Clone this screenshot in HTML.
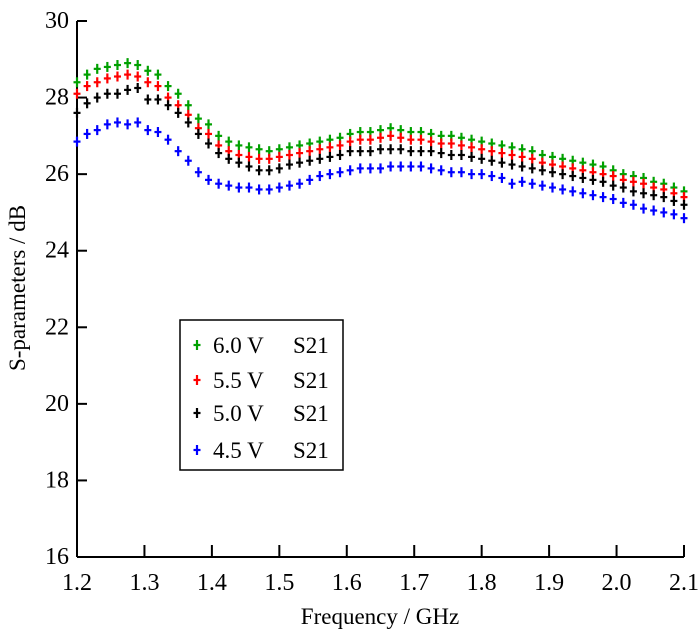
<!DOCTYPE html>
<html><head><meta charset="utf-8"><style>
body{margin:0;background:#fff}
svg text{font-family:"Liberation Serif",serif;fill:#000}
</style></head><body>
<svg id="chart" width="700" height="636" viewBox="0 0 700 636" xmlns="http://www.w3.org/2000/svg">
<g id="axes"></g>
<g id="series"></g>
<g id="legend"></g>
<text x="380" y="624" font-size="23" text-anchor="middle">Frequency / GHz</text>
<text transform="translate(25,288) rotate(-90)" font-size="23" text-anchor="middle">S-parameters / dB</text>
</svg>
<script>
const xTicks=["1.2","1.3","1.4","1.5","1.6","1.7","1.8","1.9","2.0","2.1"];
const yTicks=["16","18","20","22","24","26","28","30"];
const seriesNames=["6.0 V","5.5 V","5.0 V","4.5 V"];
const seriesColors=["#00a000","#ff0000","#000000","#0000ff"];
const green=[28.4,28.6,28.75,28.8,28.85,28.9,28.85,28.7,28.6,28.3,28.1,27.8,27.45,27.3,27.0,26.85,26.75,26.7,26.65,26.6,26.65,26.7,26.75,26.8,26.85,26.9,26.95,27.05,27.1,27.1,27.15,27.2,27.15,27.1,27.1,27.05,27.0,27.0,26.95,26.9,26.85,26.8,26.75,26.7,26.65,26.6,26.5,26.45,26.4,26.35,26.3,26.25,26.2,26.1,26.0,25.95,25.9,25.8,25.75,25.65,25.55];
const red=[28.1,28.3,28.4,28.5,28.55,28.6,28.55,28.4,28.3,28.0,27.8,27.55,27.2,27.05,26.75,26.6,26.5,26.45,26.4,26.4,26.45,26.5,26.55,26.6,26.65,26.7,26.75,26.85,26.9,26.9,26.95,27.0,26.95,26.9,26.9,26.85,26.8,26.8,26.75,26.7,26.65,26.6,26.55,26.5,26.45,26.4,26.3,26.25,26.2,26.15,26.1,26.05,26.0,25.95,25.85,25.8,25.75,25.65,25.6,25.5,25.4];
const black=[27.6,27.85,28.0,28.1,28.1,28.2,28.25,27.95,27.95,27.8,27.6,27.35,27.05,26.8,26.55,26.4,26.3,26.2,26.1,26.1,26.15,26.25,26.3,26.35,26.4,26.45,26.5,26.6,26.6,26.6,26.65,26.65,26.65,26.6,26.6,26.6,26.55,26.5,26.5,26.45,26.4,26.35,26.3,26.25,26.2,26.15,26.1,26.05,26.0,25.95,25.9,25.85,25.8,25.7,25.65,25.55,25.5,25.45,25.4,25.3,25.2];
const blue=[26.85,27.05,27.15,27.3,27.35,27.3,27.35,27.15,27.1,26.9,26.6,26.35,26.05,25.85,25.75,25.7,25.65,25.65,25.6,25.6,25.65,25.7,25.75,25.85,25.95,26.0,26.05,26.1,26.15,26.15,26.15,26.2,26.2,26.2,26.2,26.15,26.1,26.05,26.05,26.0,26.0,25.95,25.9,25.75,25.8,25.75,25.7,25.65,25.6,25.55,25.5,25.45,25.4,25.35,25.25,25.2,25.1,25.05,25.0,24.95,24.85];
const allSeries=[green,red,black,blue];

const NS="http://www.w3.org/2000/svg";
const X0=77,X1=684,Y0=557,Y1=21;
const xMin=1.2,xMax=2.1,yMin=16,yMax=30;
function sx(v){return X0+(v-xMin)/(xMax-xMin)*(X1-X0);}
function sy(v){return Y0-(v-yMin)/(yMax-yMin)*(Y0-Y1);}
function mk(tag,attrs,parent){const e=document.createElementNS(NS,tag);for(const k in attrs)e.setAttribute(k,attrs[k]);parent.appendChild(e);return e;}

const axes=document.getElementById('axes');
let l=mk('line',{x1:X0,y1:Y1,x2:X0,y2:Y0,stroke:'#000','stroke-width':2},axes);


l=mk('line',{x1:X0,y1:Y0,x2:X1,y2:Y0,stroke:'#000','stroke-width':2},axes);


yTicks.forEach(t=>{const y=sy(parseFloat(t));
 const tk=mk('line',{x1:X0,y1:y,x2:X0+10,y2:y,stroke:'#000','stroke-width':2},axes);
 
 
 const tx=mk('text',{x:X0-8,y:y+7,'font-size':24,'text-anchor':'end'},axes);tx.textContent=t;
 
 
});
xTicks.forEach(t=>{const x=sx(parseFloat(t));
 const tk=mk('line',{x1:x,y1:Y0,x2:x,y2:Y0-12,stroke:'#000','stroke-width':2},axes);
 
 
 const tx=mk('text',{x:x,y:Y0+33,'font-size':24,'text-anchor':'middle'},axes);tx.textContent=t;
 
 
});

function plus(g,x,y,c){
 mk('line',{x1:x,y1:y-5,x2:x,y2:y+5,stroke:c,'stroke-width':2.2},g);
 mk('line',{x1:x-3.5,y1:y,x2:x+3.5,y2:y,stroke:c,'stroke-width':2.2},g);
}
const sg=document.getElementById('series');
allSeries.forEach((data,si)=>{
 const g=mk('g',{},sg);
 
 
 const n=data.length;
 data.forEach((v,i)=>{const f=xMin+i*(xMax-xMin)/(n-1);plus(g,sx(f),sy(v),seriesColors[si]);});
});

const lg=document.getElementById('legend');
const box=mk('rect',{x:180,y:320,width:163,height:150,fill:'#fff',stroke:'#000','stroke-width':1.5},lg);


const ly=[345,380,413,450];
seriesNames.forEach((n,i)=>{
 const g=mk('g',{},lg);
 
 
 plus(g,197,ly[i],seriesColors[i]);
 const t=mk('text',{x:213,y:ly[i]+8,'font-size':23},g);t.textContent=n;
 const t2=mk('text',{x:293,y:ly[i]+8,'font-size':23},g);t2.textContent='S21';
});
</script>
</body></html>
